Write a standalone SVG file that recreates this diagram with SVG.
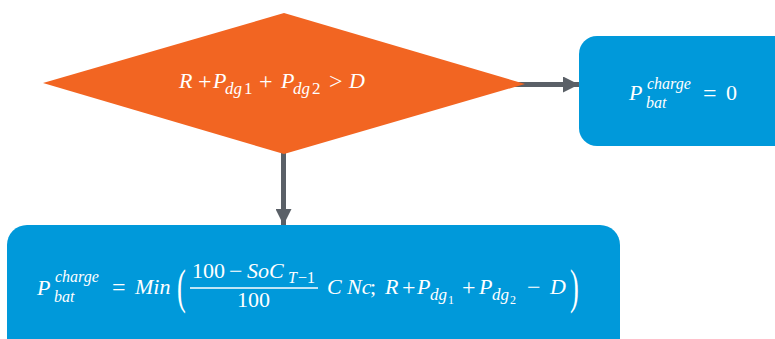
<svg xmlns="http://www.w3.org/2000/svg" width="775" height="339" viewBox="0 0 775 339">
<defs>
<style>
.t{font-family:"Liberation Serif","DejaVu Serif",serif;font-style:italic;fill:#fff;font-size:22px}
.n{font-style:normal}
.o{font-style:normal;font-size:24px}
.s{font-size:17px}
.u{font-size:16px}
.ss{font-size:12px}
.p{font-style:normal;font-size:48px;font-weight:normal}
.conn{stroke:#5A6067;stroke-width:5;fill:none}
</style>
<marker id="ah" markerUnits="userSpaceOnUse" markerWidth="16" markerHeight="16" refX="16" refY="8" orient="auto">
<path d="M0,0 L16,8 L0,16 Z" fill="#5A6067"/>
</marker>
</defs>
<rect width="775" height="339" fill="#fff"/>
<g id="connectors">
<line class="conn" x1="515" y1="84.5" x2="579" y2="84.5" marker-end="url(#ah)"/>
<line class="conn" x1="283.5" y1="150" x2="283.5" y2="225" marker-end="url(#ah)"/>
</g>
<g id="decision">
<polygon points="43,83 284,13 525,84 284,154" fill="#F26522"/>
<text class="t" x="179" y="88">R</text>
<text class="t o" x="198" y="89">+</text>
<text class="t" x="213" y="88">P</text>
<text class="t s" x="225" y="94">dg</text>
<text class="t s n" x="244" y="94">1</text>
<text class="t o" x="259" y="89">+</text>
<text class="t" x="281" y="88">P</text>
<text class="t s" x="293" y="94">dg</text>
<text class="t s n" x="312" y="94">2</text>
<text class="t o" x="329" y="89">&gt;</text>
<text class="t" x="349" y="88">D</text>
</g>
<g id="zero">
<rect x="579" y="36" width="220" height="110" rx="18" fill="#0099DA"/>
<text class="t" x="629" y="100">P</text>
<text class="t u" x="647" y="89">charge</text>
<text class="t u" x="646" y="108">bat</text>
<text class="t o" x="703" y="101">=</text>
<text class="t n" x="726" y="100">0</text>
</g>
<g id="charge">
<rect x="7" y="225" width="613" height="140" rx="20" fill="#0099DA"/>
<text class="t" x="37" y="295">P</text>
<text class="t u" x="55" y="282">charge</text>
<text class="t u" x="54" y="302">bat</text>
<text class="t o" x="112" y="295">=</text>
<text class="t" x="135" y="294">Min</text>
<text class="t p" x="177" y="303" transform="translate(177 303) scale(0.55 1) translate(-177 -303)">(</text>
<text class="t n" x="192" y="278">100</text>
<text class="t o" x="229" y="279">−</text>
<text class="t" x="247" y="278">SoC</text>
<text class="t u" x="288" y="283">T</text>
<text class="t u n" x="298" y="283">−1</text>
<line x1="190" y1="288" x2="318" y2="288" stroke="#fff" stroke-width="1.5"/>
<text class="t n" x="237" y="307">100</text>
<text class="t" x="327" y="294">C</text>
<text class="t" x="347" y="294">Nc</text>
<text class="t n" x="370" y="294">;</text>
<text class="t" x="385" y="294">R</text>
<text class="t o" x="402" y="295">+</text>
<text class="t" x="417" y="294">P</text>
<text class="t s" x="430" y="300">dg</text>
<text class="t ss n" x="448" y="304">1</text>
<text class="t o" x="462" y="295">+</text>
<text class="t" x="479" y="294">P</text>
<text class="t s" x="492" y="300">dg</text>
<text class="t ss n" x="510" y="304">2</text>
<text class="t o" x="527" y="295">−</text>
<text class="t" x="550" y="294">D</text>
<text class="t p" x="570" y="303" transform="translate(570 303) scale(0.55 1) translate(-570 -303)">)</text>
</g>
</svg>
